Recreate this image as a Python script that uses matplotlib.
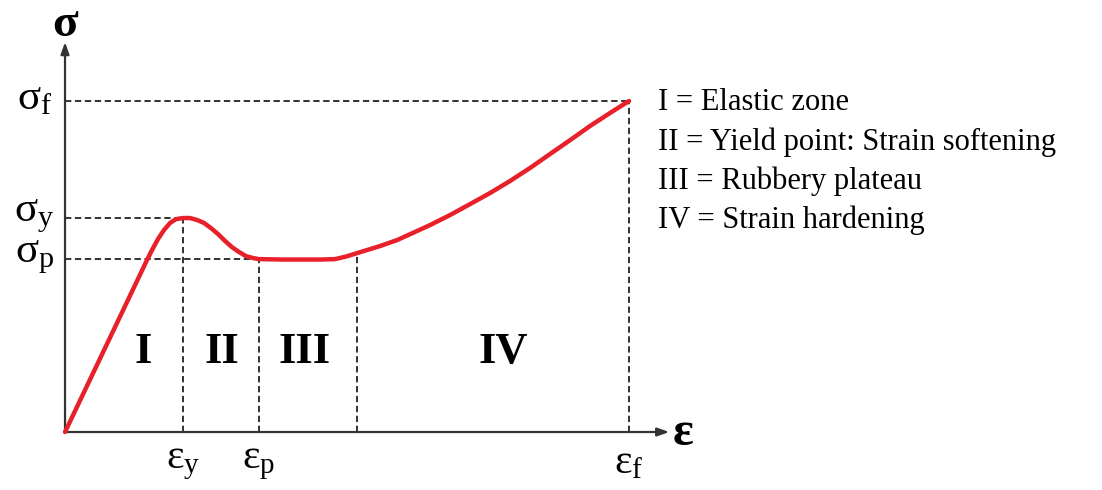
import matplotlib.pyplot as plt

plt.rcParams['font.family'] = ['Liberation Serif', 'DejaVu Serif']
plt.rcParams['mathtext.default'] = 'regular'

# characteristic points (strain normalised by eps_y, stress normalised by sigma_y)
eps_y = 1.0
eps_p = 1.644
eps_h = 2.475   # onset of strain hardening
eps_f = 4.78
sig_y = 1.0
sig_p = 0.808
sig_h = 0.836
sig_f = 1.547

# stress-strain curve
strain = [0.0, 0.695, 0.737, 0.788, 0.839, 0.890, 0.941, 1.0, 1.059, 1.119, 1.178,
          1.237, 1.297, 1.356, 1.415, 1.475, 1.534, 1.593, 1.644, 1.85, 2.05, 2.161,
          2.288, 2.381, 2.475, 2.669, 2.814, 2.966, 3.093, 3.263, 3.432, 3.602, 3.771,
          3.941, 4.110, 4.280, 4.449, 4.619, 4.78]
stress = [0.0, 0.804, 0.850, 0.902, 0.944, 0.977, 0.995, 1.0, 1.0, 0.991, 0.977,
          0.953, 0.925, 0.893, 0.864, 0.841, 0.822, 0.813, 0.808, 0.806, 0.806, 0.806,
          0.808, 0.820, 0.836, 0.869, 0.897, 0.935, 0.967, 1.014, 1.065, 1.117, 1.173,
          1.234, 1.299, 1.364, 1.430, 1.491, 1.547]

zones = ['I', 'II', 'III', 'IV']
zone_x = [0.66, 1.33, 2.03, 3.71]
legend_lines = ['I = Elastic zone',
                'II = Yield point: Strain softening',
                'III = Rubbery plateau',
                'IV = Strain hardening']

fig = plt.figure(figsize=(11.02, 4.9), dpi=100)
ax = fig.add_axes([0, 0, 1, 1])
ax.set_xlim(-0.551, 8.788)
ax.set_ylim(-0.271, 2.019)
ax.axis('off')

dash = dict(color='#222222', lw=1.3, ls=(0, (3.5, 2)), zorder=1)
# horizontal guides
ax.plot([0, eps_y], [sig_y, sig_y], **dash)
ax.plot([0, eps_p], [sig_p, sig_p], **dash)
ax.plot([0, eps_f], [sig_f, sig_f], **dash)
# vertical guides
ax.plot([eps_y, eps_y], [0, sig_y], **dash)
ax.plot([eps_p, eps_p], [0, sig_p], **dash)
ax.plot([eps_h, eps_h], [0, sig_h], **dash)
ax.plot([eps_f, eps_f], [0, sig_f], **dash)

# axes with arrow heads
arrow = dict(arrowstyle='-|>,head_length=0.7,head_width=0.25', color='#333333',
             lw=1.6, shrinkA=0, shrinkB=0)
ax.annotate('', xy=(0, 1.822), xytext=(0, 0), arrowprops=arrow)
ax.annotate('', xy=(5.12, 0), xytext=(0, 0), arrowprops=arrow)

ax.plot(strain, stress, color='#e8202a', lw=3.2, solid_capstyle='round',
        solid_joinstyle='round', zorder=3)

ax.text(0.0, 1.85, 'σ', fontsize=34, fontweight='bold', ha='center', va='baseline')
ax.text(5.24, -0.061, 'ε', fontsize=35, fontweight='bold', ha='center', va='baseline')

# stress labels on the vertical axis
for lab, s in [('$σ_f$', sig_f), ('$σ_y$', sig_y), ('$σ_p$', sig_p)]:
    ax.text(-0.26, s + 0.01, lab, fontsize=31, ha='center', va='center')
# strain labels under the horizontal axis
for lab, e in [('$ε_y$', eps_y), ('$ε_p$', eps_p), ('$ε_f$', eps_f)]:
    ax.text(e, -0.145, lab, fontsize=30, ha='center', va='center')

for z, zx in zip(zones, zone_x):
    ax.text(zx, 0.375, z, fontsize=32, fontweight='bold', ha='center', va='center')

for i, line in enumerate(legend_lines):
    ax.text(5.025, 1.54 - i * 0.184, line, fontsize=22, ha='left', va='center')

fig.savefig('out.png', dpi=100)
